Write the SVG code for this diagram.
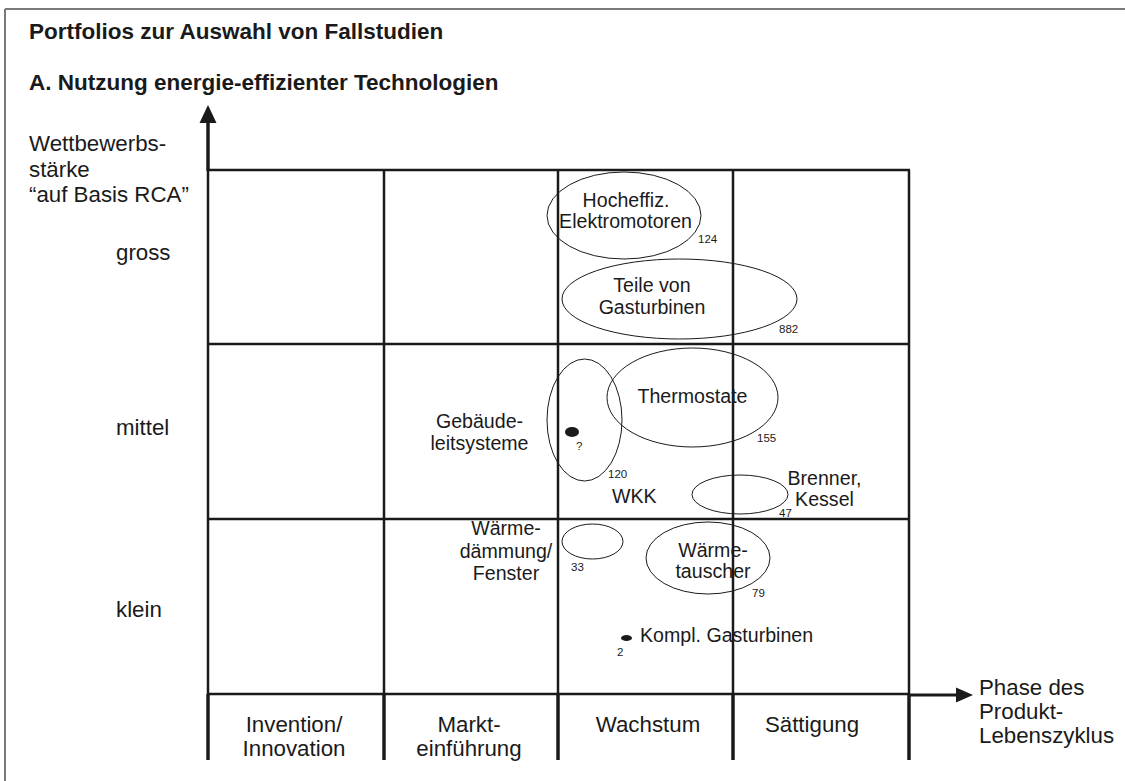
<svg xmlns="http://www.w3.org/2000/svg" width="1125" height="781" viewBox="0 0 1125 781">
<style>
text{font-family:"Liberation Sans",Arial,sans-serif;fill:#1a1a1a}
.h{font-weight:bold;font-size:22.5px}
.l{font-size:22.3px}
.n{font-size:19.6px}
.s{font-size:11.5px}
.m{text-anchor:middle}
.g{stroke:#1a1a1a;stroke-width:2.5;fill:none}
.t{stroke:#1a1a1a;stroke-width:3.5;fill:none}
.e{stroke:#1a1a1a;stroke-width:1;fill:none}
.d{fill:#1a1a1a}
</style>
<rect x="0" y="0" width="1125" height="781" fill="#fff"/>
<g id="frame" stroke="#7a7a7a" stroke-width="2" fill="none">
<line x1="5" y1="9" x2="1125" y2="9"/>
<line x1="5" y1="9" x2="5" y2="781"/>
</g>
<g id="titles">
<text class="h" x="29" y="39">Portfolios zur Auswahl von Fallstudien</text>
<text class="h" x="29" y="90">A. Nutzung energie-effizienter Technologien</text>
</g>
<g id="grid">
<line class="g" x1="208" y1="170" x2="910" y2="170"/>
<line class="g" x1="208" y1="344" x2="910" y2="344"/>
<line class="g" x1="208" y1="519" x2="910" y2="519"/>
<line class="g" x1="208" y1="694" x2="910" y2="694"/>
<line class="g" x1="208" y1="170" x2="208" y2="694"/>
<line class="g" x1="384" y1="170" x2="384" y2="694"/>
<line class="g" x1="558" y1="170" x2="558" y2="694"/>
<line class="g" x1="733" y1="170" x2="733" y2="694"/>
<line class="g" x1="909" y1="170" x2="909" y2="694"/>
<line class="t" x1="208" y1="694" x2="208" y2="760"/>
<line class="t" x1="384" y1="694" x2="384" y2="760"/>
<line class="t" x1="558" y1="694" x2="558" y2="760"/>
<line class="t" x1="733" y1="694" x2="733" y2="760"/>
<line class="t" x1="909" y1="694" x2="909" y2="760"/>
</g>
<g id="connectors">
<line class="t" x1="208" y1="171" x2="208" y2="120"/>
<polygon class="d" points="199.5,123 216.5,123 208,105"/>
<line stroke="#1a1a1a" stroke-width="3" x1="909" y1="695" x2="958" y2="695"/>
<polygon class="d" points="956,687.5 956,702.5 973,695"/>
</g>
<g id="y-axis-label">
<text class="l" x="29" y="151">Wettbewerbs-</text>
<text class="l" x="29" y="177">stärke</text>
<text class="l" x="29" y="202">“auf Basis RCA”</text>
</g>
<g id="row-labels">
<text class="l" x="116" y="260">gross</text>
<text class="l" x="116" y="435">mittel</text>
<text class="l" x="116" y="617">klein</text>
</g>
<g id="phase-labels">
<text class="l m" x="294" y="732">Invention/</text>
<text class="l m" x="294" y="756">Innovation</text>
<text class="l m" x="469" y="732">Markt-</text>
<text class="l m" x="469" y="756">einführung</text>
<text class="l m" x="648" y="732">Wachstum</text>
<text class="l m" x="812" y="732">Sättigung</text>
</g>
<g id="x-axis-label">
<text class="l" x="979" y="695">Phase des</text>
<text class="l" x="979" y="719">Produkt-</text>
<text class="l" x="979" y="743">Lebenszyklus</text>
</g>
<g id="node-elektromotoren">
<ellipse class="e" cx="624" cy="215.5" rx="77" ry="43.5"/>
<text class="n m" x="626" y="207">Hocheffiz.</text>
<text class="n m" x="625.5" y="228">Elektromotoren</text>
<text class="s" x="698" y="243">124</text>
</g>
<g id="node-gasturbinen-teile">
<ellipse class="e" cx="679.5" cy="299" rx="117.5" ry="40"/>
<text class="n m" x="652" y="292">Teile von</text>
<text class="n m" x="652" y="314">Gasturbinen</text>
<text class="s" x="779" y="333">882</text>
</g>
<g id="node-gebaeudeleitsysteme">
<ellipse class="e" cx="584.5" cy="420" rx="37.5" ry="61"/>
<ellipse class="d" cx="572" cy="432" rx="7" ry="5"/>
<text class="s" x="576" y="450">?</text>
<text class="s" x="608" y="478">120</text>
<text class="n m" x="479.5" y="428">Gebäude-</text>
<text class="n m" x="479.5" y="450">leitsysteme</text>
</g>
<g id="node-thermostate">
<ellipse class="e" cx="692.5" cy="397.5" rx="85.5" ry="49.5"/>
<text class="n m" x="692.5" y="403">Thermostate</text>
<text class="s" x="757" y="442">155</text>
</g>
<g id="node-wkk">
<text class="n" x="612" y="503">WKK</text>
</g>
<g id="node-brenner">
<ellipse class="e" cx="740" cy="494.5" rx="48" ry="19.5"/>
<text class="n m" x="824.5" y="485">Brenner,</text>
<text class="n m" x="824.5" y="506">Kessel</text>
<text class="s" x="779" y="517">47</text>
</g>
<g id="node-waermedaemmung">
<ellipse class="e" cx="592.5" cy="541.5" rx="30.5" ry="17.5"/>
<text class="s" x="571" y="571">33</text>
<text class="n m" x="506" y="535">Wärme-</text>
<text class="n m" x="506" y="558">dämmung/</text>
<text class="n m" x="506" y="580">Fenster</text>
</g>
<g id="node-waermetauscher">
<ellipse class="e" cx="708" cy="558" rx="62" ry="36"/>
<text class="n m" x="713" y="557">Wärme-</text>
<text class="n m" x="713" y="578">tauscher</text>
<text class="s" x="752" y="597">79</text>
</g>
<g id="node-kompl-gasturbinen">
<ellipse class="d" cx="626.5" cy="638" rx="5.5" ry="3"/>
<text class="n" x="640" y="642">Kompl. Gasturbinen</text>
<text class="s" x="617" y="656">2</text>
</g>
</svg>
